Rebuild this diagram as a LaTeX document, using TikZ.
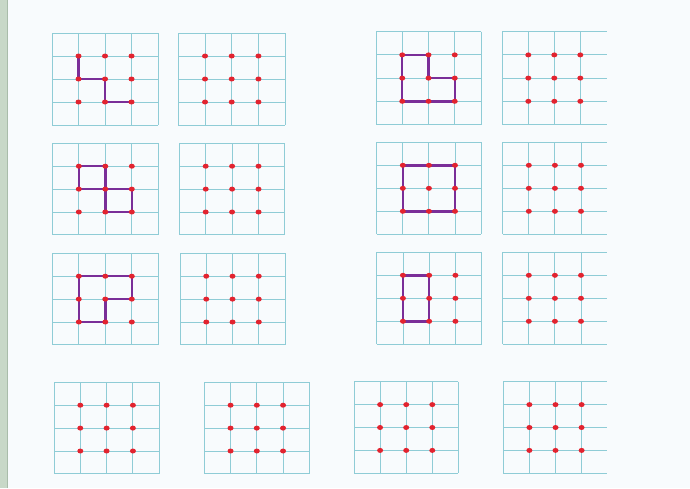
\documentclass[tikz,border=0pt]{standalone}
\usetikzlibrary{shapes.geometric}
\definecolor{gridc}{HTML}{8FCCD6}
\definecolor{dotc}{HTML}{E2232F}
\definecolor{pathc}{HTML}{7A2E98}
\definecolor{bgc}{HTML}{F8FBFD}
\definecolor{stripc}{HTML}{C8D8C8}
\definecolor{stripl}{HTML}{A9BCAA}
\tikzset{
  gridline/.style={draw=gridc, line width=0.9pt},
  rdot/.style={ellipse, fill=dotc, inner sep=0pt, minimum width=6pt, minimum height=5pt},
  shapeline/.style={draw=pathc, line width=2.4pt, line join=round, line cap=round}
}
% #1 name, #2 x0, #3 y0, #4 dx, #5 dy, #6 right extent (cells), #7 vertical lines, #8 shape code
\newcommand\dgrid[8]{%
  \begin{scope}[shift={(#2,-#3)}, x=#4pt, y=-#5pt]
    \foreach \k in {0,...,4} \draw[gridline] (0,\k) -- (#6,\k);
    \foreach \k in {#7} \draw[gridline] (\k,0) -- (\k,4);
    \foreach \i in {1,2,3} \foreach \j in {1,2,3} \coordinate (#1-\i\j) at (\i,\j);
    #8
    \foreach \i in {1,2,3} \foreach \j in {1,2,3} \node[rdot] (#1-d\i\j) at (#1-\i\j) {};
  \end{scope}}
\begin{document}
\begin{tikzpicture}[x=1pt,y=1pt]
\useasboundingbox (0,0) rectangle (690,-488);
\fill[bgc] (0,0) rectangle (690,-488);
\fill[stripc] (0,0) rectangle (7,-488);
\draw[stripl, line width=0.8pt] (7.5,0) -- (7.5,-488);
% row 1
\dgrid{a}{52}{33}{26.5}{23}{4}{0,...,4}{\draw[shapeline] (a-11) -- (a-12) -- (a-22) -- (a-23) -- (a-33);}
\dgrid{b}{178.3}{33}{26.7}{23}{4}{0,...,4}{}
\dgrid{c}{376}{31.7}{26.25}{23.2}{4}{0,...,4}{\draw[shapeline] (c-11) -- (c-21) -- (c-22) -- (c-32) -- (c-33) -- (c-13) -- cycle;}
\dgrid{d}{502.3}{31.7}{26}{23.2}{4.03}{0,...,3}{}
% row 2
\dgrid{e}{52.3}{143.3}{26.5}{22.9}{4}{0,...,4}{\draw[shapeline] (e-12) -- (e-11) -- (e-21) -- (e-23) -- (e-33) -- (e-32) -- (e-12);}
\dgrid{f}{179.3}{143.3}{26.4}{22.9}{4}{0,...,4}{}
\dgrid{g}{376.7}{142.3}{26.1}{23}{4}{0,...,4}{\draw[shapeline] (g-11) -- (g-31) -- (g-33) -- (g-13) -- cycle;}
\dgrid{h}{502.7}{142.3}{26.1}{23}{4.01}{0,...,3}{}
% row 3
\dgrid{i}{52.3}{253.3}{26.5}{22.9}{4}{0,...,4}{\draw[shapeline] (i-11) -- (i-31) -- (i-32) -- (i-22) -- (i-23) -- (i-13) -- cycle;}
\dgrid{j}{180}{253.3}{26.25}{22.9}{4}{0,...,4}{}
\dgrid{k}{376.7}{252.3}{26.25}{23}{4}{0,...,4}{\draw[shapeline] (k-11) -- (k-21) -- (k-23) -- (k-13) -- cycle;}
\dgrid{l}{502.7}{252.3}{26.1}{23}{4.01}{0,...,3}{}
% row 4
\dgrid{m}{54}{382.3}{26.3}{22.9}{4}{0,...,4}{}
\dgrid{n}{204.3}{382.3}{26.25}{22.9}{4}{0,...,4}{}
\dgrid{o}{354}{381.7}{26.1}{22.9}{4}{0,...,4}{}
\dgrid{p}{503.3}{381.7}{26.1}{22.9}{3.96}{0,...,3}{}
\end{tikzpicture}
\end{document}
